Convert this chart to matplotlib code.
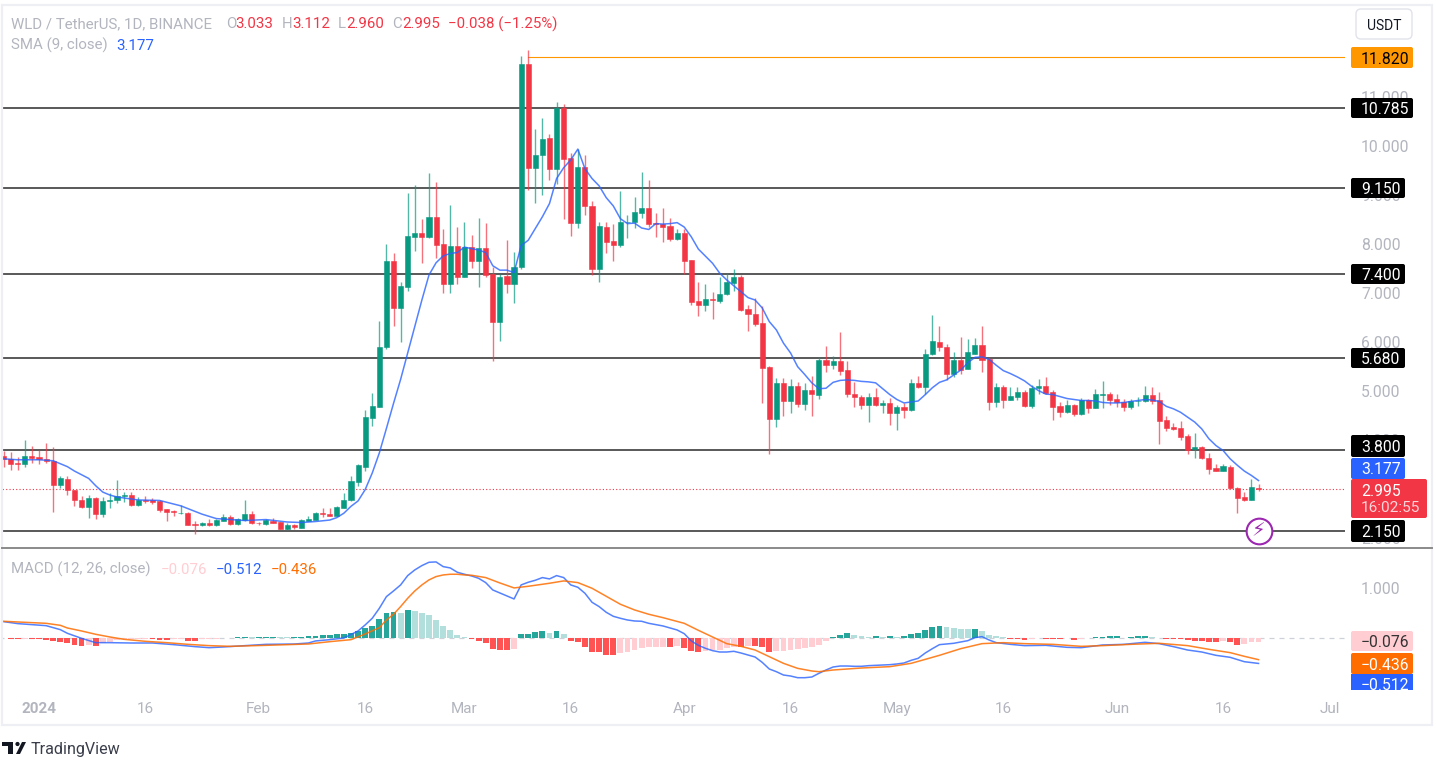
import numpy as np
import pandas as pd
import matplotlib
matplotlib.use('Agg')
import matplotlib.pyplot as plt
from matplotlib.patches import FancyBboxPatch, Rectangle, Polygon, Circle

plt.rcParams['font.family'] = ['Roboto', 'DejaVu Sans']

# daily candles, 27 Dec 2023 to 21 Jun 2024
first_day = pd.Timestamp('2023-12-27')

opens = [3.68,3.62,3.53,3.52,3.68,3.65,3.62,3.58,3.08,3.21,
         2.99,2.78,2.63,2.83,2.50,2.75,2.77,2.87,2.89,2.67,
         2.78,2.78,2.76,2.60,2.55,2.51,2.52,2.28,2.26,2.31,
         2.26,2.36,2.43,2.28,2.37,2.50,2.32,2.28,2.36,2.34,
         2.19,2.26,2.21,2.36,2.38,2.51,2.50,2.46,2.62,2.77,
         3.14,3.46,4.46,4.68,5.91,7.66,6.69,7.12,8.15,8.23,
         8.15,8.55,8.00,7.18,7.96,7.33,7.94,7.66,7.92,7.39,
         6.42,7.35,7.18,7.53,11.68,9.55,9.81,10.16,9.53,10.77,
         9.75,8.44,9.57,8.78,7.49,8.35,8.06,7.98,8.45,8.46,
         8.64,8.74,8.43,8.41,8.37,8.10,8.23,7.67,6.84,6.75,
         6.89,6.85,6.98,7.20,7.32,6.68,6.58,6.39,5.50,4.43,
         5.16,4.80,5.10,4.73,5.02,4.92,5.63,5.54,5.62,5.43,
         4.95,4.89,4.72,4.89,4.72,4.75,4.55,4.67,4.62,5.16,
         5.08,5.75,6.01,5.91,5.36,5.64,5.46,5.76,5.95,5.66,
         4.77,5.09,4.82,4.88,4.99,4.70,5.06,5.10,4.98,4.70,
         4.58,4.72,4.54,4.82,4.66,4.92,4.95,4.84,4.78,4.67,
         4.79,4.80,4.93,4.81,4.42,4.27,4.24,4.08,3.81,3.86,
         3.63,3.43,3.38,3.46,3.03,2.84,2.78,3.033]
highs = [3.77,3.75,3.66,4.00,3.89,3.80,3.94,3.87,3.26,3.26,
         2.99,2.87,2.88,2.84,2.84,2.93,3.19,2.95,2.94,2.84,
         2.87,2.81,2.78,2.60,2.58,2.67,2.53,2.35,2.32,2.39,
         2.40,2.49,2.47,2.41,2.78,2.56,2.34,2.39,2.42,2.34,
         2.31,2.28,2.39,2.45,2.53,2.61,2.62,2.66,2.93,3.26,
         3.51,4.62,4.97,6.44,8.00,7.81,7.22,9.05,9.20,8.51,
         9.46,9.26,8.31,8.80,8.35,8.45,8.19,8.53,8.43,7.54,
         7.39,8.08,7.84,11.84,11.97,10.35,10.57,10.25,10.90,10.86,
         9.87,9.94,9.83,8.88,8.45,8.45,8.41,9.09,8.59,8.97,
         9.48,9.30,8.64,8.74,8.53,8.31,8.31,7.67,7.22,7.18,
         7.02,7.33,7.41,7.49,7.37,6.76,6.91,6.73,5.51,5.27,
         5.27,5.24,5.18,5.16,5.31,5.69,5.92,5.71,6.21,5.61,
         5.19,4.92,4.97,5.06,4.81,4.87,4.71,4.75,5.24,5.31,
         5.86,6.55,6.32,5.97,5.80,6.10,6.07,6.09,6.34,5.70,
         5.17,5.13,5.09,5.09,5.02,5.12,5.25,5.28,5.02,4.77,
         4.82,4.74,4.87,4.84,5.05,5.20,4.99,4.94,4.84,4.85,
         4.88,5.11,5.08,4.98,4.50,4.35,4.40,4.12,4.15,3.89,
         3.74,3.52,3.52,3.49,3.05,2.95,3.20,3.112]
lows = [3.45,3.39,3.39,3.45,3.53,3.52,3.53,2.53,3.02,2.88,
        2.66,2.61,2.42,2.40,2.43,2.61,2.72,2.73,2.66,2.66,
        2.72,2.69,2.54,2.36,2.46,2.50,2.26,2.09,2.24,2.24,
        2.24,2.36,2.27,2.27,2.36,2.28,2.26,2.27,2.30,2.19,
        2.17,2.19,2.21,2.36,2.37,2.44,2.46,2.45,2.61,2.76,
        3.07,3.38,4.29,4.67,5.87,6.32,6.01,7.05,7.86,7.61,
        8.13,7.71,7.01,7.01,7.18,7.33,7.51,7.12,7.34,5.62,
        6.03,7.01,6.80,7.49,9.11,8.85,9.01,9.30,9.22,8.51,
        8.17,8.33,8.60,7.37,7.22,7.82,7.65,7.94,8.12,8.33,
        8.54,8.35,8.15,8.04,8.06,8.08,7.39,6.75,6.53,6.63,
        6.48,6.79,6.97,7.05,6.63,6.22,6.32,4.76,3.71,4.27,
        4.49,4.55,4.68,4.61,4.49,4.84,5.39,5.46,5.33,4.88,
        4.68,4.64,4.37,4.70,4.55,4.31,4.20,4.45,4.60,5.06,
        4.95,5.74,5.82,5.22,5.28,5.35,5.45,5.75,5.40,4.62,
        4.68,4.66,4.81,4.81,4.68,4.66,4.95,4.94,4.41,4.47,
        4.56,4.49,4.51,4.56,4.65,4.66,4.72,4.68,4.59,4.63,
        4.69,4.78,4.74,3.92,4.19,4.21,4.00,3.71,3.64,3.62,
        3.31,3.37,3.37,3.01,2.52,2.76,2.78,2.960]
closes = [3.61,3.52,3.51,3.68,3.63,3.62,3.58,3.08,3.22,2.98,
          2.78,2.63,2.82,2.50,2.76,2.78,2.86,2.89,2.67,2.78,
          2.76,2.74,2.58,2.53,2.53,2.52,2.26,2.26,2.31,2.26,
          2.38,2.43,2.28,2.39,2.49,2.30,2.30,2.38,2.32,2.19,
          2.26,2.23,2.37,2.39,2.51,2.49,2.46,2.64,2.78,3.16,
          3.49,4.47,4.70,5.91,7.66,6.69,7.14,8.17,8.23,8.15,
          8.55,7.99,7.18,7.96,7.34,7.95,7.66,7.92,7.37,6.42,
          7.33,7.18,7.53,11.68,9.55,9.83,10.14,9.53,10.77,9.74,
          8.44,9.57,8.77,7.49,8.37,8.04,7.98,8.45,8.46,8.65,
          8.74,8.41,8.41,8.36,8.10,8.23,7.66,6.83,6.75,6.89,
          6.87,6.99,7.22,7.32,6.66,6.57,6.38,5.48,4.43,5.16,
          4.80,5.10,4.73,5.02,4.94,5.64,5.54,5.62,5.41,4.94,
          4.88,4.72,4.89,4.72,4.75,4.55,4.67,4.62,5.16,5.08,
          5.76,6.03,5.90,5.36,5.63,5.44,5.79,5.95,5.63,4.77,
          5.09,4.83,4.90,4.99,4.70,5.06,5.10,4.97,4.68,4.58,
          4.71,4.53,4.82,4.66,4.94,4.94,4.82,4.78,4.67,4.80,
          4.80,4.93,4.80,4.40,4.24,4.23,4.06,3.79,3.86,3.63,
          3.42,3.38,3.47,3.02,2.83,2.78,3.04,2.995]

# SMA readings, candle number counted from 1 Jan
sma_days = [-5,-3,0,2,4,5,7,8,9,10,11,14,17,20,23,25,27,29,32,35,37,39,41,42,43,44,45,
            46,47,48,49,50,51,52,53,54,55,56,57,58,59,60,61,62,63,64,65,66,67,68,69,70,
            71,72,73,74,75,76,77,78,79,80,81,82,83,84,85,86,87,88,89,90,91,92,93,95,96,
            97,98,99,100,101,102,103,104,105,106,107,108,109,110,111,112,113,114,115,116,
            117,118,119,120,121,122,123,124,125,126,127,128,129,130,131,132,133,134,135,
            136,137,138,139,140,141,142,143,144,145,146,147,148,149,150,151,152,153,154,
            155,156,157,158,159,160,161,162,163,164,165,166,167,168,169,170,171,172]
sma_vals = [3.62,3.60,3.60,3.58,3.46,3.37,3.22,3.07,2.94,2.88,2.84,2.78,2.77,2.66,2.49,2.40,2.38,
            2.36,2.38,2.33,2.32,2.34,2.37,2.42,2.51,2.65,2.76,
            2.99,3.33,3.74,4.24,4.75,5.24,5.78,6.32,6.86,7.37,7.62,7.76,7.81,7.83,7.94,7.91,7.88,7.83,
            7.56,7.47,7.47,7.42,7.97,8.08,8.32,8.56,8.83,9.34,9.56,9.72,9.94,9.54,9.34,9.19,8.95,8.78,
            8.52,8.42,8.43,8.33,8.30,8.42,8.41,8.42,8.44,8.35,8.15,7.90,7.61,7.41,7.27,7.15,7.03,6.91,
            6.86,6.70,6.42,6.25,5.98,5.78,5.50,5.34,5.17,5.05,5.06,5.18,5.22,5.23,5.22,5.20,5.19,5.17,
            5.05,4.93,4.83,4.76,4.78,4.80,4.93,5.07,5.18,5.23,5.33,5.43,5.58,5.69,5.70,5.65,5.53,5.42,
            5.36,5.29,5.21,5.10,5.01,4.94,4.93,4.89,4.85,4.83,4.81,4.81,4.80,4.77,4.76,4.76,4.77,4.79,
            4.81,4.83,4.82,4.79,4.69,4.64,4.57,4.47,4.37,4.23,4.03,3.89,3.79,3.62,3.49,3.37,3.28,3.177]

hist_vals = [-.007,-.013,-.027,-.020,-.021,-.024,-.040,-.054,-.081,-.094,
             -.134,-.154,-.134,-.154,-.101,-.081,-.047,-.027,-.024,-.020,
             -.013,-.013,-.034,-.036,-.020,-.013,-.060,-.062,-.027,-.020,
             -.013,-.007,-.007,.013,.020,.013,.020,.027,.029,.020,
             .013,.020,.027,.034,.047,.060,.067,.074,.087,.101,
             .148,.201,.248,.376,.510,.517,.510,.557,.537,.497,
             .456,.362,.235,.168,.067,.020,-.020,-.067,-.107,-.215,
             -.235,-.242,-.215,.074,.087,.114,.134,.101,.141,.074,
             -.067,-.087,-.174,-.282,-.289,-.336,-.342,-.295,-.275,-.242,
             -.201,-.181,-.178,-.175,-.185,-.161,-.195,-.255,-.275,-.268,
             -.248,-.242,-.201,-.181,-.185,-.154,-.165,-.188,-.275,-.270,
             -.255,-.242,-.228,-.208,-.188,-.148,-.067,.020,.067,.094,
             .067,.040,.027,.040,.020,.040,.020,.034,.081,.107,
             .168,.221,.242,.215,.195,.181,.174,.181,.148,.067,
             .034,.013,-.020,-.022,-.034,-.013,-.007,-.013,-.027,-.029,
             -.007,-.040,-.020,-.007,.020,.022,.034,.036,.007,.020,
             .034,.036,.020,.007,-.013,-.015,-.027,-.047,-.054,-.060,
             -.081,-.087,-.067,-.087,-.134,-.128,-.087,-.076]

macd_days = [-5,-3,-1,1,3,4,6,8,10,13,16,19,22,24,26,29,32,36,38,39,41,43,45,46,47,48,49,50,51,52,
             53,54,55,56,57,58,59,60,61,62,63,64,65,66,67,68,69,70,71,72,73,74,75,76,77,78,79,80,
             81,82,83,84,85,86,87,88,89,90,91,92,93,94,95,96,97,98,99,100,101,102,103,104,105,106,
             107,108,109,110,111,112,113,114,115,116,117,118,119,120,121,122,123,124,125,126,127,
             129,130,131,132,133,134,135,137,139,142,145,147,150,153,156,158,160,162,164,166,168,170,172]
macd_vals = [.329,.289,.268,.248,.168,.094,-.007,-.094,-.094,-.101,-.101,-.134,-.174,-.195,-.181,-.154,
             -.128,-.121,-.101,-.060,-.034,0,.141,.262,.396,.597,.832,.946,1.067,1.255,
             1.369,1.456,1.523,1.530,1.436,1.409,1.322,1.282,1.248,1.201,1.114,.966,.906,.846,.785,1.067,
             1.121,1.161,1.215,1.188,1.255,1.215,1.067,1.020,.899,.718,.631,.517,
             .436,.396,.362,.342,.336,.295,.268,.242,.201,.161,.087,-.060,-.148,-.208,-.255,-.282,-.282,
             -.268,-.302,-.342,-.383,-.490,-.624,-.678,-.745,-.765,
             -.799,-.799,-.785,-.711,-.644,-.584,-.564,-.564,-.570,-.570,-.557,-.550,-.544,-.537,-.523,
             -.503,-.450,-.409,-.302,-.215,-.134,
             -.107,-.081,-.054,.007,.027,-.040,-.094,-.128,-.154,-.148,-.188,-.195,-.141,-.128,-.087,
             -.114,-.174,-.242,-.282,-.349,-.389,-.477,-.512]

signal_days = [-5,-3,1,3,4,6,8,10,12,15,18,21,24,27,32,38,41,44,46,48,49,50,51,52,53,54,55,56,57,58,59,
               60,61,63,65,67,69,72,74,76,78,80,82,84,86,88,91,93,95,97,99,101,103,105,107,109,110,112,
               116,120,123,125,127,130,133,136,139,143,147,150,154,158,162,165,168,170,172]
signal_vals = [.336,.322,.295,.255,.201,.141,.074,.020,-.027,-.067,-.094,-.128,-.154,-.168,-.148,-.121,
               -.074,-.034,.081,.208,.362,.477,.631,.799,.946,1.067,1.168,1.235,1.268,1.282,1.282,
               1.268,1.262,1.215,1.107,1.007,1.040,1.101,1.148,1.114,1.000,.839,.678,.564,.477,.409,
               .295,.154,.020,-.114,-.168,-.242,-.376,-.510,-.611,-.664,-.678,-.644,
               -.604,-.577,-.510,-.430,-.349,-.215,-.114,-.094,-.114,-.128,-.168,-.154,-.128,-.107,
               -.154,-.228,-.295,-.369,-.436]

hlines = [11.82, 10.785, 9.15, 7.40, 5.68, 3.80, 2.15]
price_ticks = [2, 4, 5, 6, 7, 8, 9, 10, 11]  # 3.000 sits fully behind the last price tag

GREEN = '#089981'
RED = '#F23645'
BLUE = '#2962FF'
ORANGE = '#FF6D00'
GREY = '#b2b5be'

W, H = 1436, 760
fig = plt.figure(figsize=(W / 100, H / 100), dpi=100, facecolor='white')


def pane(x0, y0, x1, y1):
    return fig.add_axes([x0 / W, 1 - y1 / H, (x1 - x0) / W, (y1 - y0) / H])


ax = pane(2, 8, 1345, 547)
ax2 = pane(2, 549, 1345, 695)
ov = fig.add_axes([0, 0, 1, 1], zorder=10)
ov.set_xlim(0, W)
ov.set_ylim(H, 0)
ov.axis('off')
ov.patch.set_alpha(0)

days = np.arange(len(opens)) - 5
o, h, l, c = map(np.array, (opens, highs, lows, closes))
up = c >= o
candle_col = np.where(up, GREEN, RED)

# levels first so the candles sit on top
for lev in hlines[1:]:
    ax.plot([-6, 186], [lev, lev], color='#444444', lw=1.25, zorder=1)
ax.plot([69, 186], [hlines[0], hlines[0]], color='#FF9800', lw=0.8, zorder=1)
ax.plot([-6, 186], [c[-1], c[-1]], color=RED, lw=0.8, ls=(0, (1, 2)), zorder=1)

ax.vlines(days, l, h, colors=candle_col, lw=1.0, alpha=0.7, zorder=2)
ax.bar(days, np.abs(c - o), bottom=np.minimum(o, c), width=0.72, color=candle_col,
       edgecolor=candle_col, linewidth=0.4, zorder=3)
ax.plot(sma_days, sma_vals, color=BLUE, lw=1.1, alpha=0.8, zorder=4)

# lightning badge on the last candle
ax.plot(days[-1], 2.15, 'o', ms=18.5, mfc='white', mec='#9C27B0', mew=1.5, zorder=5)
ax.text(days[-1], 2.15, '\u26a1', family='DejaVu Sans', color='#9C27B0', fontsize=14,
        ha='center', va='center', zorder=6)

ax.set_xlim(-5.22, 184.2)
ax.set_ylim(1.82, 12.82)
ax.set_yticks(price_ticks)
ax.set_yticklabels(['%.3f' % t for t in price_ticks], ha='left')
ax.yaxis.tick_right()
ax.tick_params(axis='y', length=0, pad=11.5, labelsize=11.3, labelcolor=GREY)
ax.set_xticks([])

# MACD pane
hist = np.array(hist_vals)
prev = np.r_[hist[0], hist[:-1]]
hist_col = []
for v, p in zip(hist, prev):
    if v >= 0:
        hist_col.append('#26A69A' if v >= p else '#B2DFDB')
    else:
        hist_col.append('#FF5252' if v <= p else '#FFCDD2')
ax2.plot([-6, 186], [0, 0], color='#cfd1d8', lw=0.9, ls=(0, (4, 4)), zorder=1)
ax2.bar(days, hist, width=0.82, color=hist_col, zorder=2)
ax2.plot(macd_days, macd_vals, color=BLUE, lw=1.1, alpha=0.8, zorder=3)
ax2.plot(signal_days, signal_vals, color=ORANGE, lw=1.1, alpha=0.85, zorder=4)
ax2.set_xlim(-5.22, 184.2)
ax2.set_ylim(-1.147, 1.79)
ax2.set_yticks([1])
ax2.set_yticklabels(['1.000'], ha='left')
ax2.yaxis.tick_right()
ax2.tick_params(axis='y', length=0, pad=11.5, labelsize=11.3, labelcolor=GREY)

tick_dates = ['2024-01-01', '2024-01-16', '2024-02-01', '2024-02-16', '2024-03-01', '2024-03-16',
              '2024-04-01', '2024-04-16', '2024-05-01', '2024-05-16', '2024-06-01', '2024-06-16',
              '2024-07-01']
tick_names = ['2024', '16', 'Feb', '16', 'Mar', '16', 'Apr', '16', 'May', '16', 'Jun', '16', 'Jul']
ax2.set_xticks([(pd.Timestamp(d) - first_day).days - 5 for d in tick_dates])
ax2.set_xticklabels(tick_names)
ax2.tick_params(axis='x', length=0, pad=5, labelsize=11, labelcolor=GREY)
ax2.get_xticklabels()[0].set_fontweight('bold')

for a in (ax, ax2):
    for s in a.spines.values():
        s.set_visible(False)
    a.set_facecolor('white')

# chart frame and pane separator
ov.add_patch(Rectangle((2, 5), 1430, 720, fill=False, ec='#eeeff4', lw=1.6))
ov.plot([2, 1432], [548, 548], color='#8a8a8a', lw=1.4)


def tag(x0, x1, y0, y1, fc, txt, tc='white'):
    ov.add_patch(FancyBboxPatch((x0, y0), x1 - x0, y1 - y0, boxstyle='round,pad=0,rounding_size=2',
                                fc=fc, ec='none'))
    ov.text(1361, (y0 + y1) / 2, txt, color=tc, fontsize=11.3, ha='left', va='center_baseline')


tag(1351, 1413, 47, 68, '#FF9800', '11.820', 'black')
tag(1351, 1413, 98, 118, 'black', '10.785')
tag(1351, 1405, 178, 198, 'black', '9.150')
tag(1351, 1405, 264, 284, 'black', '7.400')
tag(1351, 1405, 348, 368, 'black', '5.680')
tag(1351, 1405, 435, 457, 'black', '3.800')
tag(1351, 1405, 458, 479, BLUE, '3.177')
ov.add_patch(FancyBboxPatch((1351, 479), 76, 39, boxstyle='round,pad=0,rounding_size=2', fc=RED, ec='none'))
ov.text(1361, 490, '2.995', color='white', fontsize=11.3, va='center_baseline')
ov.text(1361, 507, '16:02:55', color='#fbd5d9', fontsize=11.1, va='center_baseline')
tag(1351, 1405, 520, 542, 'black', '2.150')
tag(1351, 1413, 631, 651, '#FFCDD2', '\u22120.076', '#333333')
tag(1351, 1413, 653, 674, ORANGE, '\u22120.436')
ov.add_patch(Rectangle((1351, 674), 62, 16, fc=BLUE, ec='none'))
ov.text(1361, 684, '\u22120.512', color='white', fontsize=11.3, va='center_baseline')

# currency button
ov.add_patch(FancyBboxPatch((1356, 9), 56, 30, boxstyle='round,pad=0,rounding_size=5', fc='white',
                            ec='#e0e3eb', lw=1))
ov.text(1384, 24, 'USDT', color='#131722', fontsize=10, ha='center', va='center_baseline')

# legends
def legend_text(x, y, txt, col):
    ov.text(x, y, txt, color=col, fontsize=10.8, va='center_baseline')


legend_text(11, 23, 'WLD / TetherUS, 1D, BINANCE', GREY)
for x, txt, col in [(226, 'O', GREY), (235, '3.033', RED), (282, 'H', GREY), (292, '3.112', RED),
                    (338, 'L', GREY), (346, '2.960', RED), (392, 'C', GREY), (402, '2.995', RED),
                    (448, '\u22120.038 (\u22121.25%)', RED)]:
    legend_text(x, 23, txt, col)
legend_text(11, 44, 'SMA (9, close)', GREY)
legend_text(116, 44, '3.177', BLUE)
legend_text(11, 568, 'MACD (12, 26, close)', GREY)
legend_text(161, 568, '\u22120.076', '#FFCDD2')
legend_text(216, 568, '\u22120.512', BLUE)
legend_text(271, 568, '\u22120.436', ORANGE)

# TradingView mark
logo = '#131722'
ov.add_patch(Polygon([(2, 742), (13, 742), (13, 754), (7.5, 754), (7.5, 746), (2, 746)], fc=logo, ec='none'))
ov.add_patch(Circle((17.5, 744), 2.1, fc=logo, ec='none'))
ov.add_patch(Polygon([(22, 742), (26, 742), (20, 754), (16, 754)], fc=logo, ec='none'))
ov.text(31, 748, 'TradingView', color='#3a3e4a', fontsize=11.6, va='center_baseline')

fig.savefig('out.png', dpi=100, facecolor='white')
